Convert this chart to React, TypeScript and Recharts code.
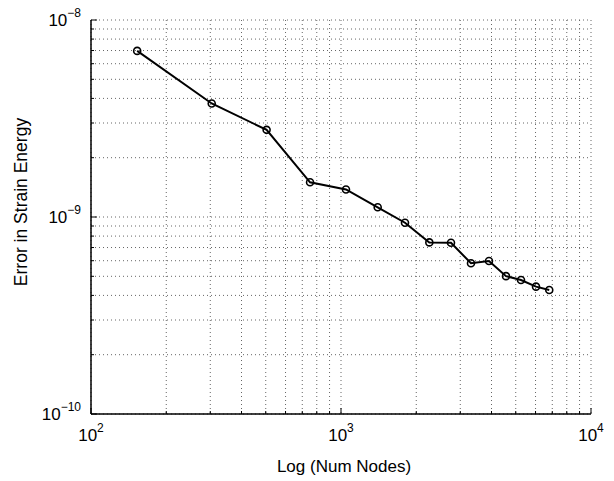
import React from 'react';
import { LineChart, Line, XAxis, YAxis, CartesianGrid, Label } from 'recharts';

const numNodes = [153, 304, 504, 752, 1047, 1402, 1803, 2256, 2754, 3311, 3908, 4571, 5248, 6026, 6808];
const strainError = [6.97e-9, 3.77e-9, 2.77e-9, 1.5e-9, 1.38e-9, 1.12e-9, 9.35e-10, 7.43e-10, 7.4e-10, 5.82e-10, 5.98e-10, 5.01e-10, 4.79e-10, 4.43e-10, 4.26e-10];

const xTicks = [100, 200, 300, 400, 500, 600, 700, 800, 900, 1000, 2000, 3000, 4000, 5000, 6000, 7000, 8000, 9000, 10000];
const yTicks = [1e-10, 2e-10, 3e-10, 4e-10, 5e-10, 6e-10, 7e-10, 8e-10, 9e-10, 1e-9, 2e-9, 3e-9, 4e-9, 5e-9, 6e-9, 7e-9, 8e-9, 9e-9, 1e-8];

const xTitle = 'Log (Num Nodes)';
const yTitle = 'Error in Strain Energy';

const data = numNodes.map((n, i) => ({ n, e: strainError[i] }));

const FONT = '"Liberation Sans", Arial, Helvetica, sans-serif';

const isMajor = (v: number) => {
  const l = Math.log10(v);
  return Math.abs(l - Math.round(l)) < 1e-6;
};
const expLabel = (v: number) => {
  const e = Math.round(Math.log10(v));
  return `${e < 0 ? '\u2212' : ''}${Math.abs(e)}`;
};

const MAJOR = 6;
const MINOR = 3;

function BottomTick(props: any) {
  const { x, y, payload } = props;
  const v = payload.value;
  const major = isMajor(v);
  return (
    <g>
      <line x1={x} x2={x} y1={y} y2={y - (major ? MAJOR : MINOR)} stroke="#000" strokeWidth={1} />
      {major && (
        <text x={x} y={y + 27} textAnchor="middle" fontFamily={FONT} fontSize={17} fill="#000">
          <tspan>10</tspan>
          <tspan dy={-9} fontSize={12}>{expLabel(v)}</tspan>
        </text>
      )}
    </g>
  );
}

function TopTick(props: any) {
  const { x, y, payload } = props;
  const major = isMajor(payload.value);
  return <line x1={x} x2={x} y1={y} y2={y + (major ? MAJOR : MINOR)} stroke="#000" strokeWidth={1} />;
}

function LeftTick(props: any) {
  const { x, y, payload } = props;
  const v = payload.value;
  const major = isMajor(v);
  return (
    <g>
      <line x1={x} x2={x + (major ? MAJOR : MINOR)} y1={y} y2={y} stroke="#000" strokeWidth={1} />
      {major && (
        <text x={x - 10} y={y + 6} textAnchor="end" fontFamily={FONT} fontSize={17} fill="#000">
          <tspan>10</tspan>
          <tspan dy={-9} fontSize={12}>{expLabel(v)}</tspan>
        </text>
      )}
    </g>
  );
}

function RightTick(props: any) {
  const { x, y, payload } = props;
  const major = isMajor(payload.value);
  return <line x1={x} x2={x - (major ? MAJOR : MINOR)} y1={y} y2={y} stroke="#000" strokeWidth={1} />;
}

function XTitle(props: any) {
  const vb = props.viewBox;
  return (
    <text x={vb.x + vb.width / 2 + 3} y={vb.y + 58} textAnchor="middle" fontFamily={FONT} fontSize={17} fill="#000">
      {xTitle}
    </text>
  );
}

function YTitle(props: any) {
  const vb = props.viewBox;
  const cx = 21;
  const cy = vb.y + vb.height / 2 - 15;
  return (
    <text x={cx} y={cy} transform={`rotate(-90 ${cx} ${cy})`} textAnchor="middle" dominantBaseline="central" fontFamily={FONT} fontSize={17.5} fill="#000">
      {yTitle}
    </text>
  );
}

export default function App() {
  return (
    <div style={{ position: 'absolute', left: 0, top: 0, width: 614, height: 481, background: '#fff' }}>
      <LineChart width={614} height={481} data={data} margin={{ top: 20, right: 23, bottom: 0, left: 0 }}>
        <CartesianGrid stroke="#666" strokeDasharray="1 3" strokeWidth={1} />
        <XAxis
          dataKey="n"
          type="number"
          scale="log"
          domain={[100, 10000]}
          ticks={xTicks}
          interval={0}
          allowDataOverflow
          height={67}
          tickSize={0}
          tickMargin={0}
          tickLine={false}
          tick={<BottomTick />}
          axisLine={{ stroke: '#000', strokeWidth: 1.5 }}
        >
          <Label content={<XTitle />} />
        </XAxis>
        <XAxis
          xAxisId="top"
          orientation="top"
          dataKey="n"
          type="number"
          scale="log"
          domain={[100, 10000]}
          ticks={xTicks}
          interval={0}
          allowDataOverflow
          height={0}
          tickSize={0}
          tickMargin={0}
          tickLine={false}
          tick={<TopTick />}
          axisLine={{ stroke: '#000', strokeWidth: 1.5 }}
        />
        <YAxis
          dataKey="e"
          type="number"
          scale="log"
          domain={[1e-10, 1e-8]}
          ticks={yTicks}
          interval={0}
          allowDataOverflow
          width={91}
          tickSize={0}
          tickMargin={0}
          tickLine={false}
          tick={<LeftTick />}
          axisLine={{ stroke: '#000', strokeWidth: 1.5 }}
        >
          <Label content={<YTitle />} />
        </YAxis>
        <YAxis
          yAxisId="right"
          orientation="right"
          dataKey="e"
          type="number"
          scale="log"
          domain={[1e-10, 1e-8]}
          ticks={yTicks}
          interval={0}
          allowDataOverflow
          width={0}
          tickSize={0}
          tickMargin={0}
          tickLine={false}
          tick={<RightTick />}
          axisLine={{ stroke: '#000', strokeWidth: 1.5 }}
        />
        <Line
          dataKey="e"
          stroke="#000"
          strokeWidth={2}
          isAnimationActive={false}
          dot={{ r: 3.5, stroke: '#000', strokeWidth: 1.6, fill: 'none' }}
          activeDot={false}
        />
      </LineChart>
    </div>
  );
}
